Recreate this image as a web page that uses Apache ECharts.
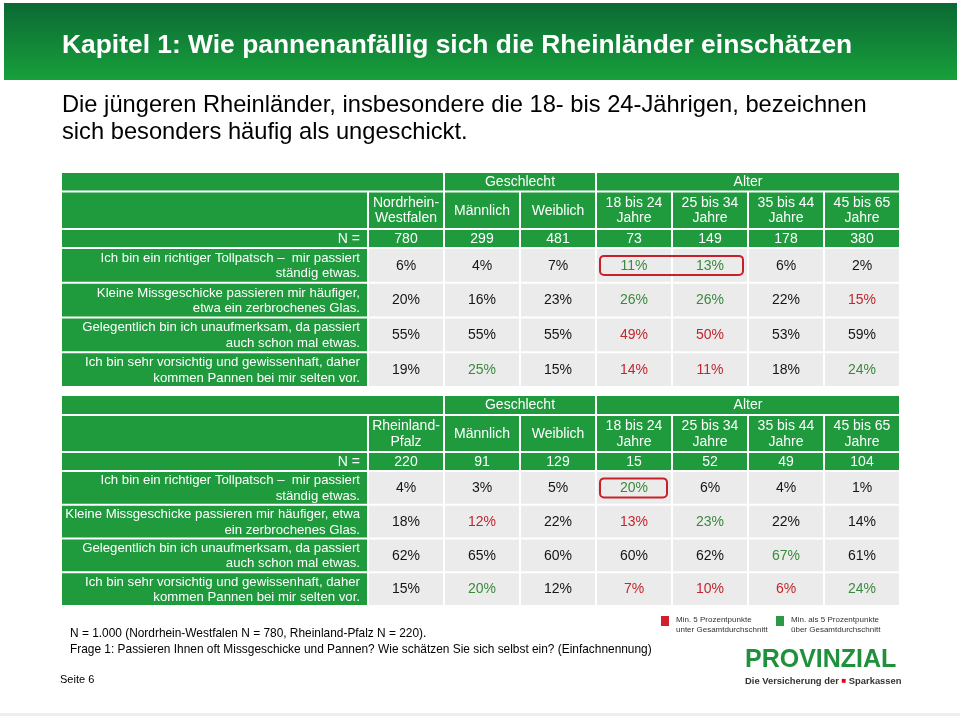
<!DOCTYPE html>
<html><head><meta charset="utf-8">
<script src="https://cdn.jsdelivr.net/npm/echarts@6/dist/echarts.min.js"></script>
<style>html,body{margin:0;padding:0;background:#fff}#c{width:960px;height:716px}</style>
</head><body><div id="c"></div>
<script>
// ---------- data ----------
const title = 'Kapitel 1: Wie pannenanfällig sich die Rheinländer einschätzen';
const subtitleLines = ['Die jüngeren Rheinländer, insbesondere die 18- bis 24-Jährigen, bezeichnen', 'sich besonders häufig als ungeschickt.'];
const groupLabels = ['', 'Geschlecht', 'Alter'];
const groupSpans = [[0, 0], [1, 2], [3, 6]];
const subColumns = ['Männlich', 'Weiblich', '18 bis 24\nJahre', '25 bis 34\nJahre', '35 bis 44\nJahre', '45 bis 65\nJahre'];

const nrwColumn = 'Nordrhein-\nWestfalen';
const nrwN = [780, 299, 481, 73, 149, 178, 380];
const nrwStatements = [
  'Ich bin ein richtiger Tollpatsch –  mir passiert\nständig etwas.',
  'Kleine Missgeschicke passieren mir häufiger,\netwa ein zerbrochenes Glas.',
  'Gelegentlich bin ich unaufmerksam, da passiert\nauch schon mal etwas.',
  'Ich bin sehr vorsichtig und gewissenhaft, daher\nkommen Pannen bei mir selten vor.'
];
const nrwValues = [
  [6, 4, 7, 11, 13, 6, 2],
  [20, 16, 23, 26, 26, 22, 15],
  [55, 55, 55, 49, 50, 53, 59],
  [19, 25, 15, 14, 11, 18, 24]
];
// '+' = more than 5 points above average, '-' = at least 5 points below
const nrwFlags = [
  ['', '', '', '+', '+', '', ''],
  ['', '', '', '+', '+', '', '-'],
  ['', '', '', '-', '-', '', ''],
  ['', '+', '', '-', '-', '', '+']
];
const nrwHighlight = [[0, 3, 4]]; // [row, fromCol, toCol]

const rlpColumn = 'Rheinland-\nPfalz';
const rlpN = [220, 91, 129, 15, 52, 49, 104];
const rlpStatements = [
  'Ich bin ein richtiger Tollpatsch –  mir passiert\nständig etwas.',
  'Kleine Missgeschicke passieren mir häufiger, etwa\nein zerbrochenes Glas.',
  'Gelegentlich bin ich unaufmerksam, da passiert\nauch schon mal etwas.',
  'Ich bin sehr vorsichtig und gewissenhaft, daher\nkommen Pannen bei mir selten vor.'
];
const rlpValues = [
  [4, 3, 5, 20, 6, 4, 1],
  [18, 12, 22, 13, 23, 22, 14],
  [62, 65, 60, 60, 62, 67, 61],
  [15, 20, 12, 7, 10, 6, 24]
];
const rlpFlags = [
  ['', '', '', '+', '', '', ''],
  ['', '-', '', '-', '+', '', ''],
  ['', '', '', '', '', '+', ''],
  ['', '+', '', '-', '-', '-', '+']
];
const rlpHighlight = [[0, 3, 3]];

const footnotes = ['N = 1.000 (Nordrhein-Westfalen N = 780, Rheinland-Pfalz N = 220).', 'Frage 1: Passieren Ihnen oft Missgeschicke und Pannen? Wie schätzen Sie sich selbst ein? (Einfachnennung)'];
const legendBelow = 'Min. 5 Prozentpunkte\nunter Gesamtdurchschnitt';
const legendAbove = 'Min. als 5 Prozentpunkte\nüber Gesamtdurchschnitt';
const pageLabel = 'Seite 6';

// ---------- layout / style ----------
const FONT = '"Liberation Sans", Arial, Helvetica, sans-serif';
const GREEN = '#1f9a3d', GRAY = '#ebebeb', TXT = '#151515', TXT_G = '#3a8a3d', TXT_R = '#c2262e';
const LABEL_LEFT = 61, LABEL_RIGHT = 368, TABLE_RIGHT = 900;

const grids = [], xAxes = [], yAxes = [], series = [];
function cats(n) { return Array.from({length: n}, (_, i) => 'k' + i); }
function addGrid(left, top, right, bottom, nx, ny) {
  const gi = grids.length;
  grids.push({left: left, top: top, width: right - left, height: bottom - top});
  xAxes.push({type: 'category', gridIndex: gi, data: cats(nx), show: false});
  yAxes.push({type: 'category', gridIndex: gi, data: cats(ny), inverse: true, show: false});
  return gi;
}
function addCells(gi, cells) {
  series.push({
    type: 'custom', xAxisIndex: gi, yAxisIndex: gi, silent: true, animation: false,
    data: cells.map(d => [d.c, d.r]), encode: {x: 0, y: 1},
    renderItem: (p, api) => {
      const d = cells[p.dataIndex];
      const a = api.coord([d.c, d.r]);
      const b = api.coord([d.c1 != null ? d.c1 : d.c, d.r]);
      const s = api.size([1, 1]);
      const x0 = a[0] - s[0] / 2 + (d.noLeftGap ? 0 : 1);
      const x1 = b[0] + s[0] / 2 - (d.noRightGap ? 0 : 1);
      const y0 = a[1] - s[1] / 2 + 1, y1 = a[1] + s[1] / 2 - 1;
      const children = [{type: 'rect', shape: {x: x0, y: y0, width: x1 - x0, height: y1 - y0}, style: {fill: d.fill}}];
      if (d.text) children.push({type: 'text', style: {
        text: d.text, x: d.align === 'right' ? x1 - 7 : (x0 + x1) / 2, y: (y0 + y1) / 2 + 0.5,
        fill: d.color, fontSize: d.size || 14, fontFamily: FONT, align: d.align || 'center', verticalAlign: 'middle', lineHeight: 15.5
      }});
      return {type: 'group', children: children};
    }
  });
}
function buildTable(t) {
  const rows = t.rows, cols = [t.totalColumn].concat(subColumns), n = cols.length;
  let g = addGrid(LABEL_LEFT, rows[0], LABEL_RIGHT, rows[1], 1, 1);
  addCells(g, [{c: 0, r: 0, fill: GREEN, noRightGap: true}]);
  g = addGrid(LABEL_RIGHT, rows[0], TABLE_RIGHT, rows[1], n, 1);
  addCells(g, groupSpans.map((s, i) => ({c: s[0], c1: s[1], r: 0, text: groupLabels[i], fill: GREEN, color: '#fff', noLeftGap: s[0] === 0})));
  g = addGrid(LABEL_LEFT, rows[1], LABEL_RIGHT, rows[2], 1, 1);
  addCells(g, [{c: 0, r: 0, fill: GREEN}]);
  g = addGrid(LABEL_RIGHT, rows[1], TABLE_RIGHT, rows[2], n, 1);
  addCells(g, cols.map((name, i) => ({c: i, r: 0, text: name, fill: GREEN, color: '#fff'})));
  g = addGrid(LABEL_LEFT, rows[2], LABEL_RIGHT, rows[3], 1, 1);
  addCells(g, [{c: 0, r: 0, text: 'N =', fill: GREEN, color: '#fff', align: 'right'}]);
  g = addGrid(LABEL_RIGHT, rows[2], TABLE_RIGHT, rows[3], n, 1);
  addCells(g, t.n.map((v, i) => ({c: i, r: 0, text: String(v), fill: GREEN, color: '#fff'})));
  g = addGrid(LABEL_LEFT, rows[3], LABEL_RIGHT, rows[4], 1, t.statements.length);
  addCells(g, t.statements.map((s, i) => ({c: 0, r: i, text: s, fill: GREEN, color: '#fff', align: 'right', size: 13.2})));
  g = addGrid(LABEL_RIGHT, rows[3], TABLE_RIGHT, rows[4], n, t.values.length);
  const cells = [];
  t.values.forEach((row, r) => row.forEach((v, c) => {
    const f = t.flags[r][c];
    cells.push({c: c, r: r, text: v + '%', fill: GRAY, color: f === '+' ? TXT_G : f === '-' ? TXT_R : TXT});
  }));
  addCells(g, cells);
  const hl = t.highlight;
  series.push({
    type: 'custom', xAxisIndex: g, yAxisIndex: g, silent: true, animation: false, z: 5,
    data: hl.map(h => [h[1], h[0]]), encode: {x: 0, y: 1},
    renderItem: (p, api) => {
      const h = hl[p.dataIndex];
      const a = api.coord([h[1], h[0]]), b = api.coord([h[2], h[0]]), s = api.size([1, 1]);
      return {type: 'rect', shape: {x: a[0] - s[0] / 2 + 4, y: a[1] - 9.5, width: b[0] - a[0] + s[0] - 9, height: 19, r: 4},
        style: {fill: 'none', stroke: '#c8202a', lineWidth: 2}};
    }
  });
}
buildTable({rows: [172, 191.5, 229, 248, 387], totalColumn: nrwColumn, n: nrwN, statements: nrwStatements, values: nrwValues, flags: nrwFlags, highlight: nrwHighlight});
buildTable({rows: [395, 415, 452, 471, 606], totalColumn: rlpColumn, n: rlpN, statements: rlpStatements, values: rlpValues, flags: rlpFlags, highlight: rlpHighlight});

const graphic = [
  {type: 'rect', shape: {x: 4, y: 3, width: 953, height: 77}, style: {fill: new echarts.graphic.LinearGradient(0, 0, 0, 1, [{offset: 0, color: '#0b6934'}, {offset: 1, color: '#18a03b'}])}},
  {type: 'text', x: 62, y: 46, style: {text: title, fill: '#fff', fontSize: 26.4, fontWeight: 'bold', fontFamily: FONT, verticalAlign: 'middle'}},
  {type: 'text', x: 62, y: 105, style: {text: subtitleLines[0], fill: '#000', fontSize: 23.7, fontFamily: FONT, verticalAlign: 'middle'}},
  {type: 'text', x: 62, y: 132, style: {text: subtitleLines[1], fill: '#000', fontSize: 23.7, fontFamily: FONT, verticalAlign: 'middle'}},
  {type: 'text', x: 70, y: 634, style: {text: footnotes[0], fill: '#000', fontSize: 11.9, fontFamily: FONT, verticalAlign: 'middle'}},
  {type: 'text', x: 70, y: 650, style: {text: footnotes[1], fill: '#000', fontSize: 11.9, fontFamily: FONT, verticalAlign: 'middle'}},
  {type: 'text', x: 60, y: 680, style: {text: pageLabel, fill: '#000', fontSize: 11, fontFamily: FONT, verticalAlign: 'middle'}},
  {type: 'rect', shape: {x: 661, y: 616, width: 8, height: 10}, style: {fill: '#d0202e'}},
  {type: 'text', x: 676, y: 625, style: {text: legendBelow, fill: '#333', fontSize: 8, fontFamily: FONT, verticalAlign: 'middle', lineHeight: 9.5}},
  {type: 'rect', shape: {x: 776, y: 616, width: 8, height: 10}, style: {fill: '#2c9a45'}},
  {type: 'text', x: 791, y: 625, style: {text: legendAbove, fill: '#333', fontSize: 8, fontFamily: FONT, verticalAlign: 'middle', lineHeight: 9.5}},
  {type: 'text', x: 745, y: 660, style: {text: 'PROVINZIAL', fill: '#1f913c', fontSize: 25, fontWeight: 'bold', fontFamily: FONT, verticalAlign: 'middle'}},
  {type: 'text', x: 745, y: 681, style: {text: 'Die Versicherung der {s|■} Sparkassen', fill: '#333', fontSize: 9.4, fontWeight: 'bold', fontFamily: FONT, verticalAlign: 'middle', rich: {s: {fill: '#e2001a', fontSize: 8, fontFamily: FONT}}}},
  {type: 'rect', shape: {x: 0, y: 713, width: 960, height: 3}, style: {fill: '#eeeeee'}}
];

const chart = echarts.init(document.getElementById('c'));
chart.setOption({animation: false, grid: grids, xAxis: xAxes, yAxis: yAxes, series: series, graphic: graphic});
</script></body></html>
